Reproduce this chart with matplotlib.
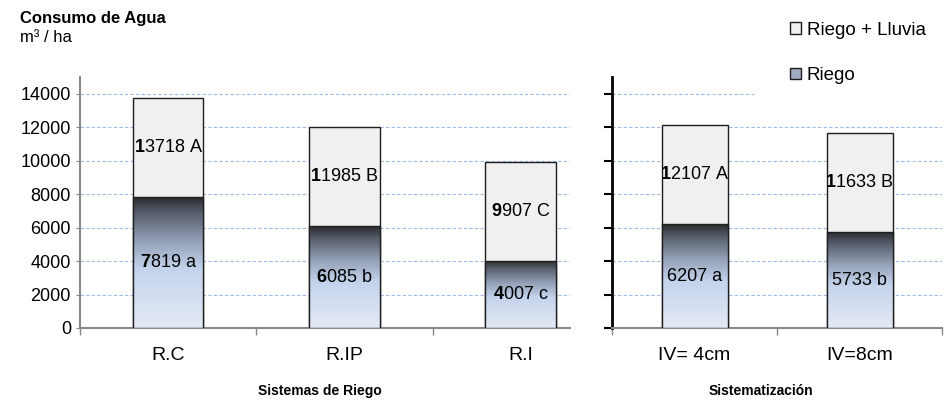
import numpy as np
import matplotlib
matplotlib.use('Agg')
import matplotlib.pyplot as plt
from matplotlib.colors import LinearSegmentedColormap
from matplotlib.patches import Patch

plt.rcParams['font.family'] = ['Liberation Sans', 'DejaVu Sans']
plt.rcParams['mathtext.fontset'] = 'custom'
plt.rcParams['mathtext.rm'] = 'Liberation Sans'
plt.rcParams['mathtext.bf'] = 'Liberation Sans:bold'

# datos
sistemas = ['R.C', 'R.IP', 'R.I']
sis_total = [13718, 11985, 9907]
sis_riego = [7819, 6085, 4007]
sis_let_total = ['A', 'B', 'C']
sis_let_riego = ['a', 'b', 'c']

sistematiz = ['IV= 4cm', 'IV=8cm']
iv_total = [12107, 11633]
iv_riego = [6207, 5733]
iv_let_total = ['A', 'B']
iv_let_riego = ['a', 'b']

yticks = [0, 2000, 4000, 6000, 8000, 10000, 12000, 14000]

grad = LinearSegmentedColormap.from_list('riego', [(0, '#e4eaf5'), (0.45, '#c4d3ec'),
                                                   (0.65, '#97a4bb'), (0.87, '#5a6170'),
                                                   (1, '#2a2b2d')])
grid_kw = dict(color='#9fb9e8', lw=0.8, ls=(0, (3, 2)), zorder=0)


def label(v, letra, bold):
    s = str(v)
    if bold:
        return r'$\mathbf{' + s[0] + '}$' + s[1:] + ' ' + letra
    return s + ' ' + letra


def dibujar(ax, cats, total, riego, lt, lr, bold_riego):
    x = np.arange(len(cats))
    ax.bar(x, total, width=0.4, color='#f0f0f0', edgecolor='#1e1e1e', lw=1, zorder=2)
    br = ax.bar(x, riego, width=0.4, color='none', edgecolor='#1e1e1e', lw=1, zorder=4)
    for b in br:
        im = ax.imshow(np.linspace(0, 1, 256).reshape(-1, 1), cmap=grad, origin='lower',
                       aspect='auto', zorder=3,
                       extent=[b.get_x(), b.get_x() + b.get_width(), 0, b.get_height()])
        im.set_clip_path(b)
    for i in range(len(cats)):
        ax.text(x[i], (total[i] + riego[i]) / 2, label(total[i], lt[i], True),
                ha='center', va='center', fontsize=13, zorder=5)
        ax.text(x[i], riego[i] / 2, label(riego[i], lr[i], bold_riego),
                ha='center', va='center', fontsize=13, zorder=5)
    ax.set_ylim(0, 15000)
    ax.set_xticks(x)
    ax.set_xticklabels(cats, fontsize=14)
    ax.set_xticks(np.arange(len(cats) + 1) - 0.5, minor=True)
    ax.tick_params(axis='x', which='major', length=0, pad=14)
    ax.tick_params(axis='x', which='minor', length=5, color='#888888', width=1)
    ax.spines['top'].set_visible(False)
    ax.spines['right'].set_visible(False)
    ax.spines['bottom'].set_color('#888888')
    ax.spines['bottom'].set_linewidth(1.5)
    return x


fig = plt.figure(figsize=(9.5, 4), dpi=100)
ax1 = fig.add_axes([80 / 950, 72 / 400, 490 / 950, 251 / 400])
ax2 = fig.add_axes([612 / 950, 72 / 400, 330 / 950, 251 / 400])

dibujar(ax1, sistemas, sis_total, sis_riego, sis_let_total, sis_let_riego, True)
ax1.set_xlim(-0.5, 2.28)
ax1.set_yticks(yticks)
ax1.tick_params(axis='y', labelsize=13, length=3, color='#888888')
ax1.spines['left'].set_color('#888888')
ax1.spines['left'].set_linewidth(1.5)
for t in yticks[1:]:
    ax1.axhline(t, **grid_kw)
ax1.set_xlabel('Sistemas de Riego', fontsize=10, fontweight='bold')
ax1.xaxis.set_label_coords(0.49, -0.225)

dibujar(ax2, sistematiz, iv_total, iv_riego, iv_let_total, iv_let_riego, False)
ax2.set_xlim(-0.5, 1.5)
ax2.set_yticks(yticks)
ax2.set_yticklabels([])
ax2.tick_params(axis='y', length=6, width=1.5, color='black')
ax2.spines['left'].set_color('black')
ax2.spines['left'].set_linewidth(2)
for t in yticks[1:-1]:
    ax2.axhline(t, **grid_kw)
ax2.axhline(yticks[-1], xmax=0.43, **grid_kw)
ax2.set_xlabel('Sistematización', fontsize=10, fontweight='bold')
ax2.xaxis.set_label_coords(0.45, -0.225)

fig.text(20 / 950, 1 - 18 / 400, 'Consumo de Agua', fontsize=12, fontweight='bold', va='center')
fig.text(20 / 950, 1 - 37 / 400, 'm³ / ha', fontsize=12, va='center')

handles = [Patch(facecolor='#f0f0f0', edgecolor='#1e1e1e'),
           Patch(facecolor='#9eacc4', edgecolor='#1e1e1e')]
fig.legend(handles, ['Riego + Lluvia', 'Riego'], loc='upper left',
           bbox_to_anchor=(790 / 950, 1 - 22 / 400), frameon=False, fontsize=13.5,
           handlelength=0.6, handleheight=0.6, handletextpad=0.3, labelspacing=1.5,
           borderpad=0, borderaxespad=0)

fig.savefig('out.png', dpi=100)
